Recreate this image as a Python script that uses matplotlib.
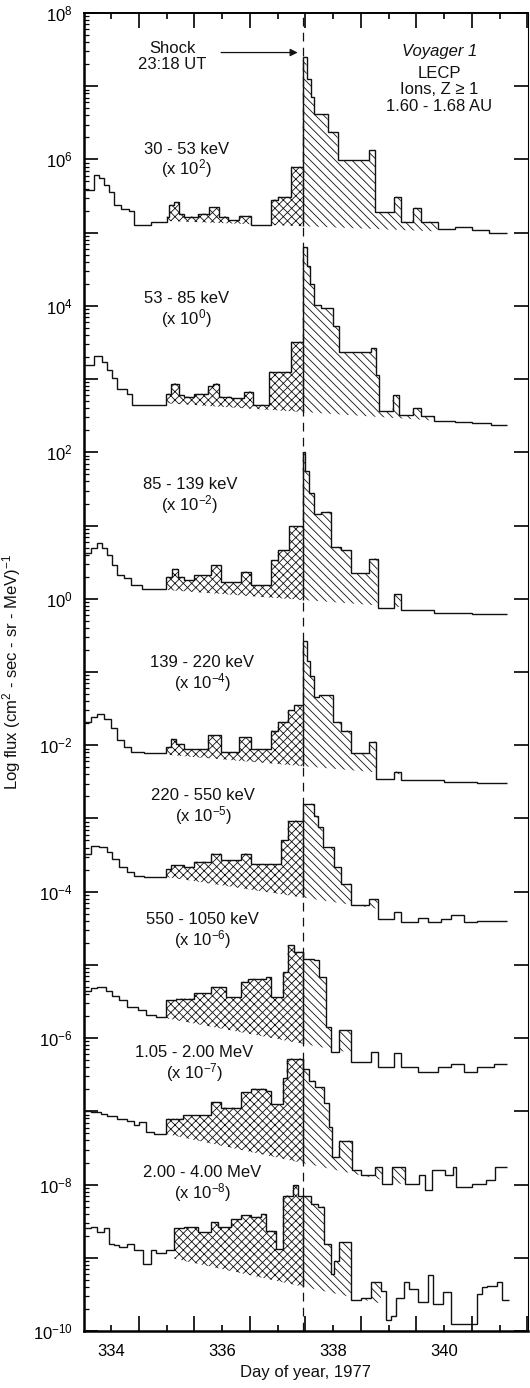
import numpy as np
import matplotlib
matplotlib.use("Agg")
from matplotlib import pyplot as plt
from matplotlib.ticker import FixedLocator, FuncFormatter, LogLocator

plt.rcParams['font.family'] = ['Liberation Sans', 'DejaVu Sans']
plt.rcParams['mathtext.fontset'] = 'custom'
plt.rcParams['mathtext.rm'] = 'Liberation Sans'
plt.rcParams['mathtext.it'] = 'Liberation Sans:italic'
plt.rcParams['hatch.linewidth'] = 0.6

# --- data: day-of-year bin edges and log10 flux (already scaled) per channel ---
labels = ["30 - 53 keV\n(x $\\mathregular{10^{2}}$)",
          "53 - 85 keV\n(x $\\mathregular{10^{0}}$)",
          "85 - 139 keV\n(x $\\mathregular{10^{-2}}$)",
          "139 - 220 keV\n(x $\\mathregular{10^{-4}}$)",
          "220 - 550 keV\n(x $\\mathregular{10^{-5}}$)",
          "550 - 1050 keV\n(x $\\mathregular{10^{-6}}$)",
          "1.05 - 2.00 MeV\n(x $\\mathregular{10^{-7}}$)",
          "2.00 - 4.00 MeV\n(x $\\mathregular{10^{-8}}$)"]

days_ch1 = [333.51, 333.69, 333.78, 333.87, 333.96, 334.05, 334.17, 334.32, 334.41, 334.72,
            335.0, 335.05, 335.14, 335.23, 335.32, 335.56, 335.77, 335.95, 336.10, 336.31,
            336.52, 336.88, 337.0, 337.24, 337.45, 337.52, 337.60, 337.66, 337.90, 338.08,
            338.65, 338.76, 339.10, 339.22, 339.43, 339.58, 339.88, 340.2, 340.5, 340.8, 341.14]
flux_ch1 = [5.58, 5.79, 5.74, 5.65, 5.56, 5.38, 5.33, 5.29, 5.10, 5.15,
            5.22, 5.38, 5.42, 5.26, 5.22, 5.26, 5.35, 5.22, 5.17, 5.23,
            5.10, 5.45, 5.49, 5.90, 7.40, 7.10, 6.85, 6.62, 6.38, 5.99,
            6.13, 5.28, 5.49, 5.15, 5.34, 5.15, 5.05, 5.08, 5.03, 5.00]

days_ch2 = [333.51, 333.69, 333.84, 333.93, 334.02, 334.11, 334.29, 334.38, 334.99,
            335.08, 335.23, 335.32, 335.50, 335.74, 335.83, 335.95, 336.16, 336.40, 336.55, 336.85,
            337.24, 337.45, 337.52, 337.58, 337.66, 337.78, 337.99, 338.11, 338.68, 338.77, 338.83,
            339.07, 339.19, 339.43, 339.58, 339.82, 340.2, 340.5, 340.85, 341.14]
flux_ch2 = [3.19, 3.31, 3.24, 3.12, 3.01, 2.87, 2.80, 2.65,
            2.80, 2.94, 2.78, 2.76, 2.80, 2.90, 2.94, 2.76, 2.74, 2.83, 2.65,
            3.10, 3.51, 4.80, 4.55, 4.30, 4.01, 3.97, 3.72, 3.37, 3.42, 3.05,
            2.56, 2.78, 2.51, 2.60, 2.49, 2.43, 2.42, 2.40, 2.37]

days_ch3 = [333.51, 333.63, 333.75, 333.84, 333.93, 334.02, 334.11, 334.23, 334.35, 334.56,
            334.99, 335.10, 335.20, 335.32, 335.50, 335.80, 335.98, 336.34, 336.52, 336.88,
            337.00, 337.21, 337.45, 337.50, 337.56, 337.66, 337.78, 337.96, 338.14, 338.32,
            338.65, 338.80, 339.10, 339.22, 339.82, 340.5, 341.14]
flux_ch3 = [0.62, 0.69, 0.76, 0.69, 0.60, 0.46, 0.32, 0.28, 0.19, 0.14,
            0.30, 0.41, 0.30, 0.25, 0.32, 0.46, 0.23, 0.37, 0.19, 0.53,
            0.66, 0.99, 2.00, 1.75, 1.45, 1.16, 1.19, 0.71, 0.66, 0.35,
            0.55, -0.13, 0.07, -0.16, -0.19, -0.21]

days_ch4 = [333.51, 333.63, 333.75, 333.87, 333.99, 334.11, 334.23, 334.36, 334.60,
            334.99, 335.08, 335.17, 335.32, 335.74, 335.98, 336.31, 336.52, 336.88,
            337.00, 337.18, 337.30, 337.45, 337.52, 337.58, 337.66, 337.75, 337.99, 338.14,
            338.32, 338.65, 338.77, 339.10, 339.22, 340.0, 340.6, 341.14]
flux_ch4 = [-1.68, -1.61, -1.57, -1.64, -1.77, -1.93, -2.02, -2.09, -2.11,
            -2.02, -1.91, -1.98, -2.05, -1.86, -2.09, -1.89, -2.05, -1.80,
            -1.68, -1.52, -1.45, -0.58, -0.85, -1.05, -1.34, -1.32, -1.68, -1.80,
            -2.11, -1.95, -2.46, -2.36, -2.48, -2.50, -2.51]

days_ch5 = [333.51, 333.63, 333.78, 333.93, 334.02, 334.14, 334.29, 334.41, 334.60,
            334.99, 335.08, 335.32, 335.50, 335.80, 335.98, 336.34, 336.52, 337.06,
            337.18, 337.45, 337.66, 337.72, 337.81, 338.02, 338.14, 338.32, 338.65, 338.80,
            339.10, 339.22, 339.52, 339.70, 339.94, 340.12, 340.36, 340.60, 341.14]
flux_ch5 = [-3.48, -3.37, -3.39, -3.46, -3.55, -3.66, -3.73, -3.78, -3.80,
            -3.69, -3.64, -3.66, -3.59, -3.48, -3.57, -3.48, -3.62, -3.30,
            -3.03, -2.80, -2.96, -3.12, -3.39, -3.66, -3.89, -4.18, -4.10, -4.37,
            -4.28, -4.41, -4.36, -4.41, -4.37, -4.32, -4.41, -4.40]

days_ch6 = [333.51, 333.63, 333.75, 333.90, 334.02, 334.14, 334.29, 334.48, 334.63, 334.81,
            334.99, 335.17, 335.32, 335.50, 335.80, 336.07, 336.34, 336.46, 336.79, 336.88,
            337.09, 337.18, 337.30, 337.45, 337.66, 337.75, 337.87, 337.96, 338.11, 338.32,
            338.68, 338.80, 339.10, 339.22, 339.52, 339.88, 340.12, 340.36, 340.60, 340.90, 341.14]
flux_ch6 = [-5.35, -5.32, -5.30, -5.35, -5.42, -5.48, -5.58, -5.62, -5.69, -5.71,
            -5.48, -5.46, -5.46, -5.39, -5.30, -5.44, -5.23, -5.19, -5.17, -5.44,
            -5.10, -4.73, -4.82, -4.92, -4.94, -5.17, -5.85, -6.19, -5.89, -6.33,
            -6.19, -6.39, -6.21, -6.39, -6.46, -6.39, -6.35, -6.46, -6.39, -6.35]

days_ch7 = [333.51, 333.63, 333.81, 333.93, 334.11, 334.29, 334.41, 334.50, 334.63, 334.78,
            334.99, 335.30, 335.80, 335.98, 336.34, 336.52, 336.79, 336.88, 337.09, 337.16,
            337.45, 337.56, 337.68, 337.83, 337.92, 337.98, 338.10, 338.34, 338.50, 338.76,
            338.88, 339.06, 339.30, 339.54, 339.66, 339.78, 340.02, 340.16, 340.22, 340.50,
            340.75, 340.92, 341.14]
flux_ch7 = [-6.99, -7.01, -7.03, -7.06, -7.10, -7.13, -7.19, -7.15, -7.28, -7.31,
            -7.10, -7.05, -6.87, -6.95, -6.74, -6.69, -6.72, -6.90, -6.55, -6.28,
            -6.42, -6.58, -6.67, -6.89, -7.21, -7.62, -7.40, -7.80, -7.87, -7.76,
            -7.99, -7.76, -7.99, -7.87, -8.08, -7.80, -7.87, -7.76, -8.03, -7.99,
            -7.94, -7.76]

days_ch8 = [333.51, 333.63, 333.75, 333.87, 333.96, 334.05, 334.14, 334.29, 334.41, 334.57,
            334.72, 334.81, 334.99, 335.14, 335.32, 335.56, 335.80, 335.92, 336.16, 336.34,
            336.52, 336.70, 336.79, 336.97, 337.09, 337.27, 337.36, 337.45, 337.60, 337.72,
            337.84, 337.96, 338.02, 338.11, 338.32, 338.50, 338.68, 338.86, 338.95, 339.04,
            339.13, 339.28, 339.37, 339.52, 339.70, 339.79, 339.97, 340.12, 340.60, 340.69,
            340.78, 340.96, 341.05, 341.17]
flux_ch8 = [-8.60, -8.58, -8.65, -8.60, -8.81, -8.83, -8.85, -8.81, -8.90, -9.08,
            -8.90, -8.94, -8.90, -8.60, -8.58, -8.65, -8.51, -8.58, -8.47, -8.42,
            -8.44, -8.40, -8.63, -8.88, -8.15, -8.01, -8.15, -8.15, -8.26, -8.30,
            -8.81, -9.22, -9.04, -8.79, -9.58, -9.55, -9.33, -9.45, -9.85, -9.80,
            -9.55, -9.33, -9.42, -9.60, -9.24, -9.63, -9.47, -9.90, -9.49, -9.40,
            -9.38, -9.33, -9.58]

# quiet-time background level (log10) at day 335.0 and day 341.14
bg_start = [5.16, 2.67, 0.12, -2.13, -3.80, -5.73, -7.31, -8.99]
bg_end = [4.98, 2.37, -0.22, -2.52, -4.50, -6.60, -8.30, -10.0]
# extent of the enhanced (hatched) interval
event_start = [335.0, 334.99, 334.99, 334.99, 334.99, 334.99, 334.99, 335.14]
event_end = [339.88, 339.82, 339.22, 339.22, 338.80, 338.32, 339.30, 338.86]

shock_day = 337.45

all_days = [days_ch1, days_ch2, days_ch3, days_ch4, days_ch5, days_ch6, days_ch7, days_ch8]
all_flux = [flux_ch1, flux_ch2, flux_ch3, flux_ch4, flux_ch5, flux_ch6, flux_ch7, flux_ch8]

# label centres (day, log10 flux)
label_pos = [(335.35, 5.98), (335.35, 3.94), (335.42, 1.40), (335.64, -1.03),
             (335.66, -2.85), (335.64, -4.54), (335.50, -6.36), (335.64, -8.00)]

fig = plt.figure(figsize=(5.3, 13.88), dpi=100)
ax = fig.add_axes([84 / 530, 1 - 1331 / 1388, 444 / 530, 1318 / 1388])
ax.set_yscale('log')


def step_value(edges, vals, xs):
    idx = np.searchsorted(edges, xs, side='right') - 1
    idx = np.clip(idx, 0, len(vals) - 1)
    return vals[idx]


def background(i, xs):
    return bg_start[i] + (bg_end[i] - bg_start[i]) * (xs - 335.0) / (341.14 - 335.0)


for i in range(8):
    e = np.array(all_days[i])
    v = np.array(all_flux[i])
    ax.stairs(10 ** v, e, color='#111111', lw=1.0, baseline=None, zorder=3)

    for x0, x1, hatch in [(event_start[i], shock_day, 'xxxx'),
                          (shock_day, event_end[i], '\\\\\\\\')]:
        xs = np.linspace(x0, x1, 1500)
        top = step_value(e, v, xs)
        base = background(i, xs)
        ax.fill_between(xs, 10 ** base, 10 ** top, where=top > base,
                        facecolor='none', edgecolor='#111111', hatch=hatch,
                        linewidth=0, zorder=2)

    # solid edge of the pre-shock part at the shock
    left_val = step_value(e, v, np.array([shock_day - 0.01]))[0]
    b_shock = background(i, np.array([shock_day]))[0]
    ax.vlines(shock_day, 10 ** b_shock, 10 ** left_val, color='#111111', lw=1.0, zorder=3)

    lx, ly = label_pos[i]
    ax.text(lx, 10 ** ly, labels[i], ha='center', va='center', fontsize=12,
            linespacing=1.05, color='#111111')

ax.axvline(shock_day, color='#111111', lw=0.9, ls=(0, (7, 5)), zorder=1)

ax.annotate('', xy=(337.41, 10 ** 7.46), xytext=(335.93, 10 ** 7.46),
            arrowprops=dict(arrowstyle='-|>', color='#111111', lw=0.9, mutation_scale=11))
ax.text(335.10, 10 ** 7.41, "Shock\n23:18 UT", ha='center', va='center', fontsize=12,
        linespacing=1.05, color='#111111')

ax.text(339.91, 10 ** 7.47, "Voyager 1", ha='center', va='center', fontsize=12,
        style='italic', color='#111111')
ax.text(339.91, 10 ** 6.95, "LECP\nIons, Z \u2265 1\n1.60 - 1.68 AU", ha='center',
        va='center', fontsize=12, linespacing=1.1, color='#111111')

ax.set_xlim(333.51, 341.51)
ax.set_ylim(1e-10, 1e8)

ax.xaxis.set_major_locator(FixedLocator(np.arange(334, 342, 1)))
ax.xaxis.set_minor_locator(FixedLocator(np.arange(333.5, 342, 1)))
ax.xaxis.set_major_formatter(FuncFormatter(lambda x, p: '%d' % x if int(round(x)) % 2 == 0 else ''))

ax.yaxis.set_major_locator(FixedLocator([10.0 ** k for k in range(-10, 9)]))
ax.yaxis.set_major_formatter(FuncFormatter(
    lambda y, p: '$\\mathregular{10^{%d}}$' % round(np.log10(y)) if round(np.log10(y)) % 2 == 0 else ''))
ax.yaxis.set_minor_locator(LogLocator(base=10, subs=np.arange(2, 10), numticks=200))
ax.yaxis.set_minor_formatter(FuncFormatter(lambda y, p: ''))

ax.tick_params(axis='x', which='major', direction='in', length=4, width=1.2,
               top=True, labelsize=12, pad=9)
ax.tick_params(axis='x', which='minor', direction='in', length=11, width=1.2, top=True)
ax.tick_params(axis='y', which='major', direction='in', length=10, width=1.2,
               right=True, labelsize=12, pad=8)
ax.tick_params(axis='y', which='minor', direction='in', length=3.5, width=0.9)

for side in ['left', 'bottom']:
    ax.spines[side].set_linewidth(1.8)
ax.spines['top'].set_linewidth(1.4)
ax.spines['right'].set_linewidth(0.8)

fig.text(12 / 530, 1 - 672 / 1388,
         "Log flux (cm$\\mathregular{^{2}}$ - sec - sr - MeV)$\\mathregular{^{-1}}$",
         rotation=90, ha='center', va='center', fontsize=12, color='#111111')
fig.text(305 / 530, 1 - 1372 / 1388, "Day of year, 1977", ha='center', va='center',
         fontsize=12, color='#111111')

fig.savefig('out.png', dpi=100)
